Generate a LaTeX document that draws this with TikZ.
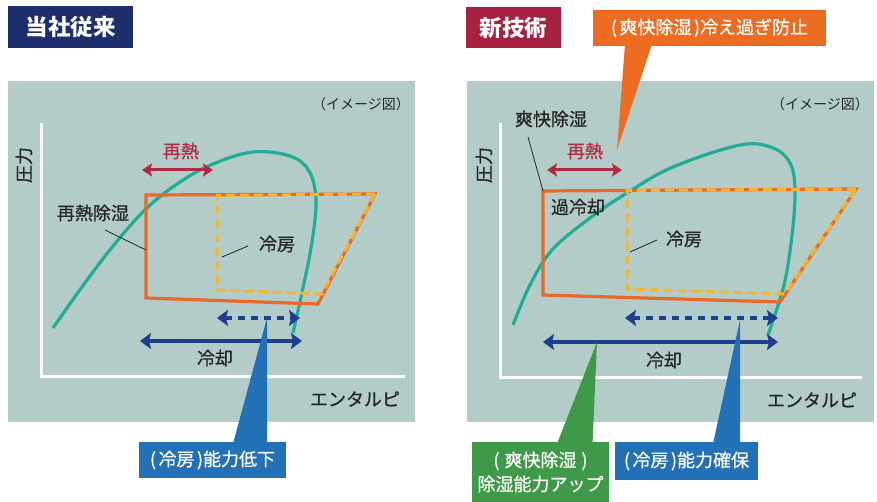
\documentclass[tikz,border=0pt]{standalone}
\usepackage{fontspec}
\newfontfamily\jp{Noto Sans CJK JP}
\newfontfamily\jpm{Noto Sans CJK JP}[FakeBold=0.7]
\usetikzlibrary{arrows.meta,positioning}
\definecolor{navy}{HTML}{1C2E6C}\definecolor{crim}{HTML}{A5213F}\definecolor{bg}{HTML}{B4CCC8}
\definecolor{teal2}{HTML}{1FAE95}\definecolor{orng}{HTML}{E8692A}\definecolor{yel}{HTML}{F5B52C}
\definecolor{reheat}{HTML}{B02A44}\definecolor{dblue}{HTML}{1F3F8E}\definecolor{cblue}{HTML}{2270B5}
\definecolor{cgreen}{HTML}{3E9A48}\definecolor{corng}{HTML}{EC6C22}
\newcommand{\lp}{(\kern2.5pt}\newcommand{\rp}{\kern2.5pt)}
\tikzset{tt/.style={fill=#1,text=white,font=\jp\bfseries\fontsize{22.5}{24}\selectfont,inner sep=0pt},
 co/.style={fill=#1,text=white,font=\jpm\fontsize{18}{24}\selectfont,inner sep=0pt,align=center},
 lb/.style={font=\jpm\fontsize{18}{20}\selectfont,inner sep=0pt,text=black!85},
 sm/.style={font=\jp\fontsize{14}{16}\selectfont,inner sep=0pt,text=black!85},
 ax/.style={white,line width=3pt},ld/.style={black!85,line width=0.8pt},
 sat/.style={teal2,line width=3.2pt},cyc/.style={orng,line width=3.2pt,line join=miter},
 yd/.style={yel,line width=3pt,dash pattern=on 9pt off 5pt},
 ar/.style={dblue,line width=4pt,{Stealth[length=11pt,width=16pt,inset=2pt]}-{Stealth[length=11pt,width=16pt,inset=2pt]}},
 da/.style={ar,dash pattern=on 7pt off 6pt},
 rh/.style={reheat,line width=3pt,{Stealth[length=10pt,width=13pt,inset=2pt]}-{Stealth[length=10pt,width=13pt,inset=2pt]}}}

\begin{document}
\begin{tikzpicture}[x=1pt,y=-1pt]
\useasboundingbox (0,0) rectangle (877,502);
% left: conventional
\fill[bg] (8,81) rectangle (415,422);
\draw[ax] (41,123) -- (41,376) -- (405,376);
\node[tt=navy,minimum width=125pt,minimum height=42pt] (t1) at (70.5,27) {当社従来};
\node[sm] (im1) at (361,104) {（イメージ図）};
\node[lb,rotate=90] (p1) at (24,165) {圧力};\node[lb] (e1) at (355,399) {エンタルピ};
\draw[sat] plot[smooth,tension=0.6] coordinates {(53,328) (87,280) (118,240) (148,207) (180,182) (213,164) (253,152) (290,156) (309,171) (316,200) (312,242) (303,288) (293,333)};
\coordinate (a1) at (146,195);\coordinate (a2) at (375,194);\coordinate (a3) at (318,304);\coordinate (a4) at (146,298);
\draw[cyc] (a1) -- (a2) -- (a3) -- (a4) -- cycle;
\draw[yd] (a2) -- (217,195.5) -- (217,290) -- (322,294) -- cycle;
\node[lb,text=reheat] (r1) at (181,151) {再熱};\draw[rh] (142,170) -- (213,170);
\node[lb] (l1) at (93,213) {再熱除湿};\draw[ld] (105,230) -- (146,250);
\node[lb] (k1) at (277,244) {冷房};\draw[ld] (222,257) -- (248,246);
\draw[da] (217,318) -- (300,318);\draw[ar] (140,341) -- (302,341);
\node[lb] (c1) at (215,358) {冷却};
\coordinate (tipA) at (267,318);
\node[co=cblue,minimum width=147pt,minimum height=36pt] (b1) at (212.5,460) {\lp 冷房\rp 能力低下};
\fill[cblue] ([xshift=20.5pt,yshift=-2pt]b1.north) -- ([xshift=54.5pt,yshift=-2pt]b1.north) -- (tipA) -- cycle;
% right: new technology
\fill[bg] (467,81) rectangle (874,422);
\draw[ax] (500,123) -- (500,377) -- (862,377);
\node[tt=crim,minimum width=95pt,minimum height=41pt] (t2) at (513.5,27.5) {新技術};
\node[sm] (im2) at (820,104) {（イメージ図）};
\node[lb,rotate=90] (p2) at (484,165) {圧力};\node[lb] (e2) at (812,400) {エンタルピ};
\draw[sat] plot[smooth,tension=0.6] coordinates {(513,325) (530,285) (552,250) (590,218) (627,193) (673,167) (740,145) (773,148) (790,163) (795,190) (792,235) (784,285) (768,335)};
\coordinate (b1a) at (543,191);\coordinate (b2a) at (856,189);\coordinate (b3a) at (780,302);\coordinate (b4a) at (543,295);
\draw[cyc] (b1a) -- (b2a) -- (b3a) -- (b4a) -- cycle;
\draw[yd] (b2a) -- (627,190.5) -- (627,289) -- (785,294) -- cycle;
\node[lb,text=reheat] (r2) at (585,151) {再熱};\draw[rh] (547,170) -- (622,170);
\node[lb] (l2) at (551,119) {爽快除湿};\draw[ld] (528,137) -- (b1a);
\node[lb] (s2) at (578,207) {過冷却};
\node[lb] (k2) at (684,239) {冷房};\draw[ld] (630,252) -- (657,240);
\draw[da] (625,318) -- (778,318);\draw[ar] (543,342) -- (778,342);
\node[lb] (c2) at (664,360) {冷却};
\coordinate (tipB) at (740,320);\coordinate (tipC) at (597,342);\coordinate (tipD) at (617,150);
\node[co=cblue,minimum width=143pt,minimum height=38pt] (b2) at (686.5,461) {\lp 冷房\rp 能力確保};
\fill[cblue] ([xshift=26.5pt,yshift=-2pt]b2.north) -- ([xshift=53.5pt,yshift=-2pt]b2.north) -- (tipB) -- cycle;
\node[co=cgreen,minimum width=137pt,minimum height=60pt] (g2) at (540.5,472) {(\kern5pt 爽快除湿\kern5pt)\\除湿能力アップ};
\fill[cgreen] ([xshift=16.5pt,yshift=-2pt]g2.north) -- ([xshift=52pt,yshift=-2pt]g2.north) -- (tipC) -- cycle;
\node[co=corng,minimum width=233pt,minimum height=36pt] (o2) at (709.5,28) {\lp 爽快除湿\rp 冷え過ぎ防止};
\fill[corng] ([xshift=-84.5pt,yshift=2pt]o2.south) -- ([xshift=-57.5pt,yshift=2pt]o2.south) -- (tipD) -- cycle;
\end{tikzpicture}
\end{document}
